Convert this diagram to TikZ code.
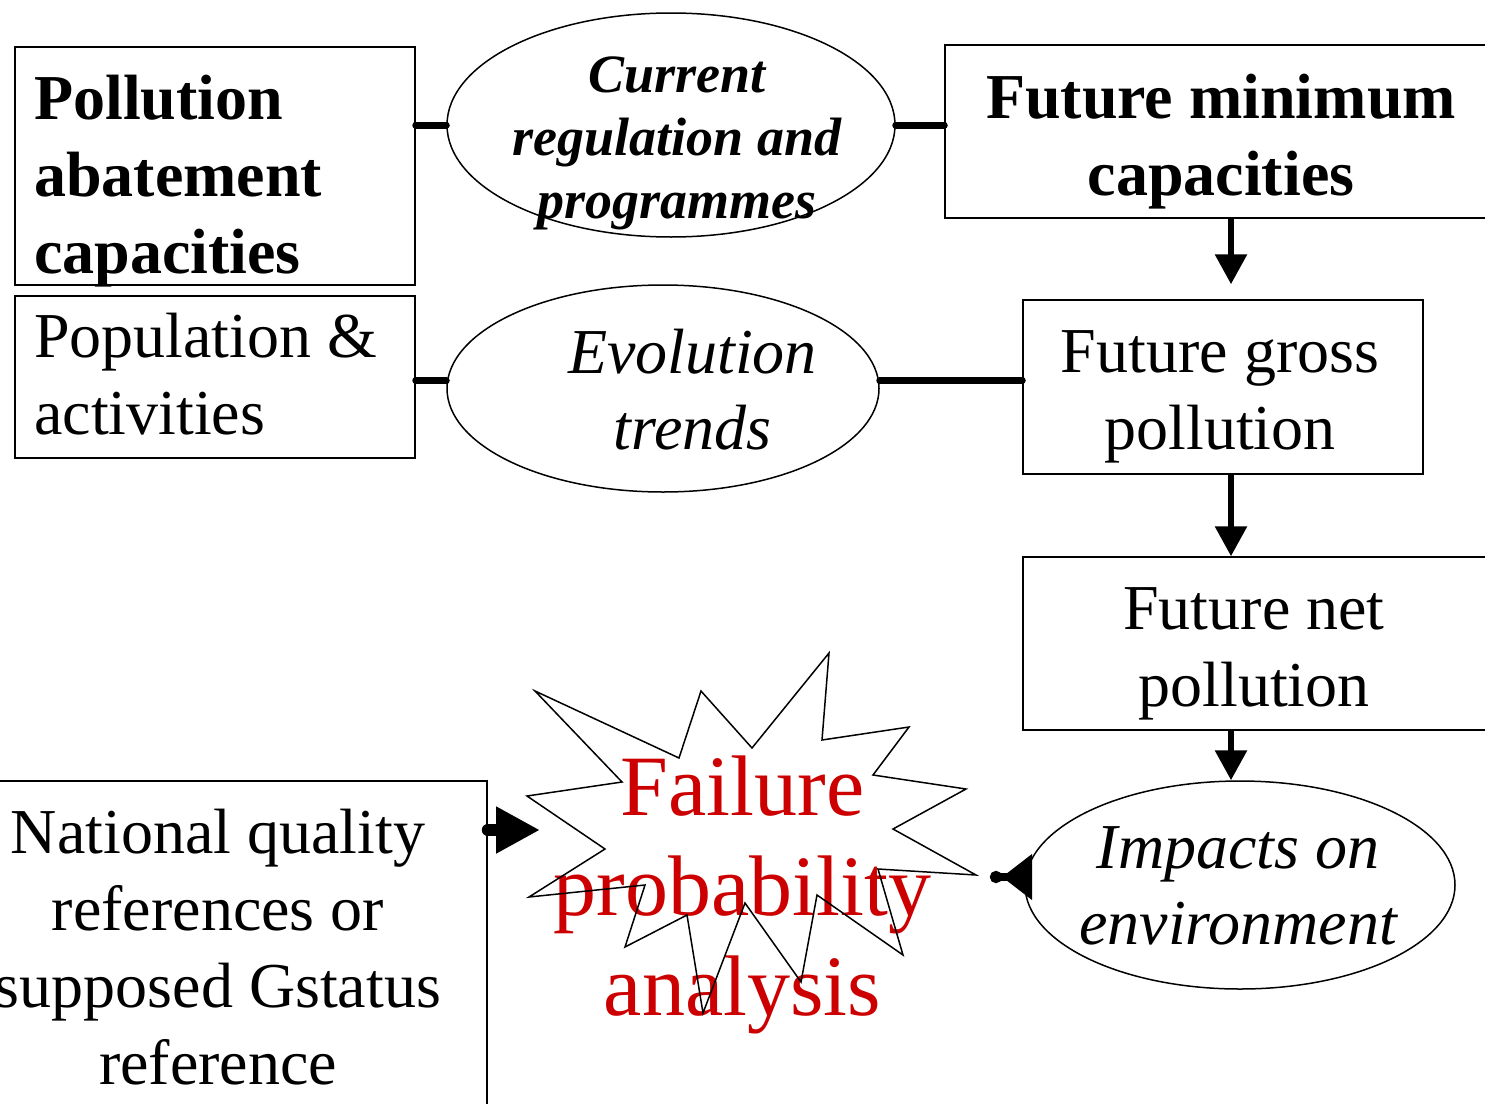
\documentclass[tikz,border=0pt]{standalone}
\usepackage{fontspec}
\setmainfont{Liberation Serif}
\usetikzlibrary{arrows.meta,shapes.geometric}
\definecolor{failred}{RGB}{204,0,0}

\begin{document}
\begin{tikzpicture}[x=1pt,y=-1pt,
    link/.style={line width=7pt,line cap=round},
    down/.style={line width=6pt,-{Triangle[length=30pt,width=31pt]}},
    txt/.style={inner sep=0pt,align=center,font=\fontsize{64}{77}\selectfont},
    bftxt/.style={txt,font=\fontsize{64}{77}\selectfont\bfseries},
    ittxt/.style={txt,font=\fontsize{64}{76}\selectfont\itshape}]
  \useasboundingbox (0,0) rectangle (1485,1103);
  \begin{scope}[every node/.style={rectangle,draw=black,line width=1.5pt,inner sep=0pt}]
    \node[minimum width=400pt,minimum height=238pt] (abate) at (215,166) {};
    \node[minimum width=400pt,minimum height=162pt] (popul) at (215,377) {};
    \node[minimum width=572pt,minimum height=173pt] (futmin) at (1231,131.5) {};
    \node[minimum width=400pt,minimum height=174pt] (gross) at (1223,387) {};
    \node[minimum width=477pt,minimum height=173pt] (net) at (1261.5,643.5) {};
    \node[minimum width=497pt,minimum height=340pt] (natref) at (238.5,951) {};
  \end{scope}
  \begin{scope}[every node/.style={ellipse,draw=black,line width=1.5pt,inner sep=0pt}]
    \node[minimum width=448pt,minimum height=224pt] (regul) at (671,125) {};
    \node[minimum width=432pt,minimum height=207pt] (evol) at (663,388.5) {};
    \node[minimum width=430pt,minimum height=208pt] (impact) at (1240,885) {};
  \end{scope}
  \node[bftxt,align=left,anchor=west] (abatetxt) at (34,181.5) {Pollution\\abatement\\capacities};
  \node[txt,align=left,anchor=west] (popultxt) at (34,374) {Population \&\\activities};
  \node[bftxt] (futmintxt) at (1221,141.5) {Future minimum\\capacities};
  \node[txt] (grosstxt) at (1220,397) {Future gross\\pollution};
  \node[txt] (nettxt) at (1254,653.5) {Future net\\pollution};
  \node[txt] (natreftxt) at (218,947) {National quality\\references or\\supposed Gstatus\\reference};
  \node[txt,font=\fontsize{54}{63}\selectfont\bfseries\itshape] (regultxt) at (677,143) {Current\\regulation and\\programmes};
  \node[ittxt] (evoltxt) at (692.5,390) {Evolution\\trends};
  \node[ittxt] (impacttxt) at (1238,885.5) {Impacts on\\environment};
  \node[txt,text=failred,font=\fontsize{86}{100}\selectfont] (failtxt) at (742.5,895) {Failure\\probability\\analysis};
  \draw[line width=1.5pt] (535,691) -- (679,758) -- (701,691) -- (752,748) -- (829,653) -- (822,740)
    -- (909,727) -- (873,775) -- (966,789) -- (893,829) -- (976,875) -- (878,869) -- (903,955)
    -- (817,895) -- (801,982) -- (745,903) -- (703,1013) -- (687,915) -- (625,947) -- (645,885)
    -- (529,897) -- (605,849) -- (527,796) -- (622,782) -- cycle;
  \coordinate (burstW) at (540,830);
  \coordinate (burstE) at (990,877);
  \draw[link] (abate.east |- regul.west) -- (regul.west);
  \draw[link] (regul.east) -- (regul.east -| futmin.west);
  \draw[link] ([yshift=-3.5pt]popul.east) -- ([yshift=-3.5pt]popul.east -| evol.west);
  \draw[link] ([yshift=-3.5pt]evol.east |- popul.east) -- ([yshift=-3.5pt]gross.west |- popul.east);
  \draw[down,shorten >=15pt] (futmin.south) -- (gross.north -| futmin.south);
  \draw[down] (gross.south -| futmin.south) -- (net.north -| futmin.south);
  \draw[down] (net.south -| futmin.south) -- (impact.north -| futmin.south);
  \draw[line width=12pt,line cap=round,-{Triangle[length=44pt,width=44pt]}] (natref.east |- burstW) -- (burstW);
  \draw[line width=8pt,-{Triangle[length=30pt,width=44pt]Circle[length=12pt]}] (impact.west |- burstE) -- (burstE);
\end{tikzpicture}
\end{document}
